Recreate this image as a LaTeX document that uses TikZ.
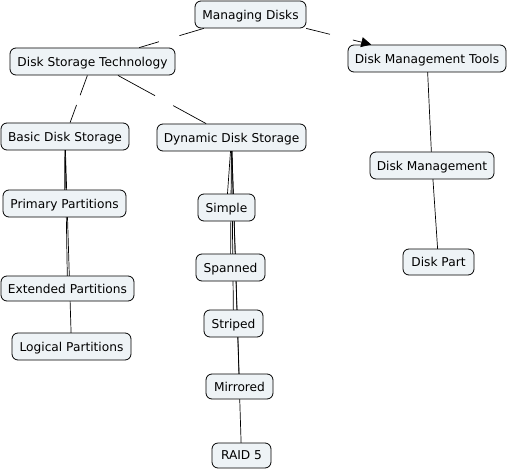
\documentclass[tikz,border=0pt]{standalone}
\usepackage{fontspec}
\setmainfont{DejaVu Sans}
\usetikzlibrary{calc,arrows.meta}
\definecolor{cfill}{HTML}{EEF3F6}
\tikzset{
  concept/.style={draw=black, line width=0.8pt, rounded corners=6pt, fill=cfill,
    font=\fontsize{12.2}{14}\selectfont, inner sep=0pt, minimum height=27pt, text depth=0pt},
  link/.style={line width=0.7pt, black},
}
\newcommand{\gaplink}[3][]{\draw[link] (#2) -- ($(#2)!.45!(#3)$) ($(#2)!.58!(#3)$) edge[link,#1] (#3);}
\begin{document}
\begin{tikzpicture}[x=1pt,y=-1pt]
\useasboundingbox (0,0) rectangle (510,470);
\fill[white] (0,0) rectangle (510,470);
\coordinate (cMD) at (250.5,14.5);
\coordinate (cDST) at (92.5,61.5);
\coordinate (cDMT) at (427,58.5);
\coordinate (cBDS) at (65,136.5);
\coordinate (cDDS) at (231.5,137.5);
\coordinate (cDM) at (432,165.5);
\coordinate (cPP) at (64.5,203.5);
\coordinate (cSI) at (226.5,207.5);
\coordinate (cSP) at (230.5,267.5);
\coordinate (cEP) at (67.5,288.5);
\coordinate (cST) at (233.5,323.5);
\coordinate (cLP) at (71.5,346.5);
\coordinate (cMI) at (239.5,386.5);
\coordinate (cR5) at (241.5,455.5);
\coordinate (cDP) at (438.5,262);

\draw[link] (cDDS) -- (cSI);
\draw[link] (cDDS) -- (cSP);
\draw[link] (cDDS) -- (cST);
\draw[link] (cDDS) -- (cMI);
\draw[link] (cDDS) -- (cR5);
\draw[link] (cBDS) -- (cPP);
\draw[link] (cBDS) -- (cEP);
\draw[link] (cBDS) -- (cLP);
\draw[link] (cDMT) -- (cDM);
\draw[link] (cDM) -- (cDP);

\node[concept, minimum width=111pt] (MD) at (cMD) {Managing Disks};
\node[concept, minimum width=165pt] (DST) at (cDST) {Disk Storage Technology};
\node[concept, minimum width=158pt] (DMT) at (cDMT) {Disk Management Tools};
\node[concept, minimum width=128pt] (BDS) at (cBDS) {Basic Disk Storage};
\node[concept, minimum width=149pt] (DDS) at (cDDS) {Dynamic Disk Storage};
\node[concept, minimum width=124pt] (DM) at (cDM) {Disk Management};
\node[concept, minimum width=123pt] (PP) at (cPP) {Primary Partitions};
\node[concept, minimum width=57pt] (SI) at (cSI) {Simple};
\node[concept, minimum width=69pt] (SP) at (cSP) {Spanned};
\node[concept, minimum width=133pt, minimum height=25pt] (EP) at (cEP) {Extended Partitions};
\node[concept, minimum width=59pt] (ST) at (cST) {Striped};
\node[concept, minimum width=119pt] (LP) at (cLP) {Logical Partitions};
\node[concept, minimum width=67pt, minimum height=25pt] (MI) at (cMI) {Mirrored};
\node[concept, minimum width=59pt, minimum height=25pt] (R5) at (cR5) {RAID 5};
\node[concept, minimum width=71pt, minimum height=26pt] (DPn) at (cDP) {Disk Part};

\gaplink{MD}{DST}
\gaplink[-{Triangle[length=10pt,width=10pt]}]{MD}{DMT}
\gaplink{DST}{BDS}
\gaplink{DST}{DDS}
\end{tikzpicture}
\end{document}
